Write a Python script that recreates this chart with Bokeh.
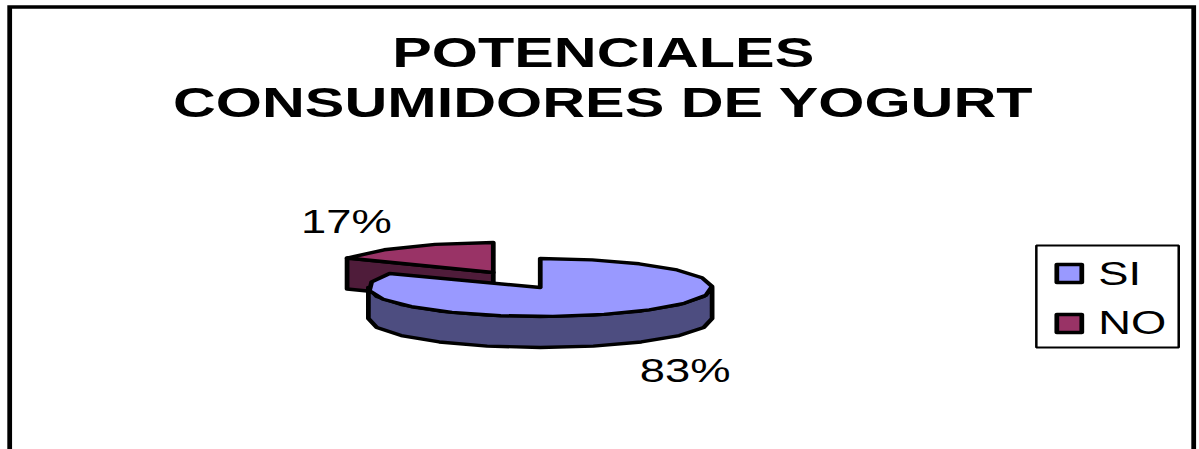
import numpy as np
from bokeh.plotting import figure
from bokeh.models import Range1d, ColumnDataSource
from bokeh.core.properties import value
from bokeh.embed import file_html
from bokeh.resources import INLINE

# ---- data ----
title_lines = ["POTENCIALES", "CONSUMIDORES DE YOGURT"]
categories = ["SI", "NO"]
shares = [83, 17]
share_labels = ["83%", "17%"]

# ---- colours ----
top_colors = ["#9999FF", "#993366"]
side_colors = ["#4D4D80", "#4F1C3A"]

# ---- layout ----
W, H = 1199, 449
K = 1.4  # the original picture is stretched horizontally
RX = [172, 167]
RY = [29, 30]
DEPTH = 31
CENTERS = [(540, 287), (493, 272)]

# Bokeh measures the scaled box, so the range is widened by the same factor
p = figure(width=int(round(W / K)), height=H, x_range=Range1d(0, W * K), y_range=Range1d(H, 0),
           output_backend="svg", toolbar_location=None, min_border=0,
           outline_line_color=None, background_fill_color="white", border_fill_color="white")
p.axis.visible = False
p.grid.visible = False
p.styles = {"position": "absolute", "left": "0", "top": "0",
            "transform": f"scaleX({K})", "transform-origin": "0 0"}

FONT = value("Liberation Sans")

# frame
p.multi_line(xs=[[9, 9, 1194, 1194]], ys=[[470, 6.5, 6.5, 470]], line_color="black",
             line_width=3.4, line_join="miter")


def arc(i, cx, cy, a0, a1, dy=0.0, step=18.0):
    """Points on the projected pie rim; angles are degrees clockwise from 12 o'clock."""
    n = max(2, int(round(abs(a1 - a0) / step)) + 1)
    t = np.radians(np.linspace(a0, a1, n))
    return cx + RX[i] * np.sin(t), cy - RY[i] * np.cos(t) + dy


angles = np.cumsum([0] + shares) / sum(shares) * 360.0
si_a0, si_a1 = angles[0], angles[1]
no_a0, no_a1 = angles[1], angles[2]
(cx0, cy0), (cx1, cy1) = CENTERS

# NO: visible cut wall
sx, sy = arc(1, cx1, cy1, no_a0, no_a0 + 1, step=90)
wall_x = [sx[0], cx1, cx1, sx[0]]
wall_y = [sy[0], cy1, cy1 + DEPTH, sy[0] + DEPTH]
# NO: top
ax, ay = arc(1, cx1, cy1, no_a0, no_a1)
no_x = np.r_[ax, cx1]
no_y = np.r_[ay, cy1]
# SI: rim
tx, ty = arc(0, cx0, cy0, 90, 270)
bx, by = arc(0, cx0, cy0, 270, 90, dy=DEPTH)
rim_x = np.r_[tx, bx]
rim_y = np.r_[ty, by]
# SI: top
ax, ay = arc(0, cx0, cy0, si_a0, si_a1)
si_x = np.r_[ax, cx0]
si_y = np.r_[ay, cy0]

src = ColumnDataSource(dict(
    xs=[list(wall_x), list(no_x), list(rim_x), list(si_x)],
    ys=[list(wall_y), list(no_y), list(rim_y), list(si_y)],
    fill=[side_colors[1], top_colors[1], side_colors[0], top_colors[0]],
))
p.patches("xs", "ys", source=src, fill_color="fill", line_color="black", line_width=3.4,
          line_join="round")

# title
p.text(x=[603, 603], y=[51.5, 101.5], text=title_lines, text_font=FONT, text_font_style="bold",
       text_font_size="42.4px", text_align="center", text_baseline="middle", text_color="black")

# value labels
p.text(x=[685, 346], y=[370, 221], text=share_labels, text_font=FONT, text_font_size="32.4px",
       text_align="center", text_baseline="middle", text_color="black")

# legend
p.quad(left=[1036.5], right=[1179], top=[245], bottom=[347], fill_color="white",
       line_color="black", line_width=1.8)
p.quad(left=[1057, 1057], right=[1082, 1082], top=[264, 314], bottom=[282, 332],
       fill_color=top_colors, line_color="black", line_width=3.4, line_join="round")
p.text(x=[1098.5, 1098.5], y=[273, 322], text=categories, text_font=FONT, text_font_size="32.4px",
       text_align="left", text_baseline="middle", text_color="black")

open("out.html", "w").write(file_html(p, INLINE))
